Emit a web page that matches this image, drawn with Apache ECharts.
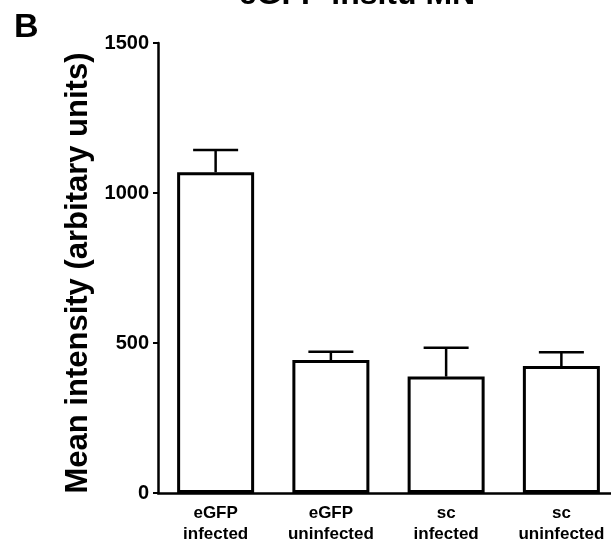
<!DOCTYPE html>
<html>
<head>
<meta charset="utf-8">
<script src="https://cdn.jsdelivr.net/npm/echarts@6/dist/echarts.min.js"></script>
<style>html,body{margin:0;padding:0;background:#fff;}#c{width:611px;height:542px;}</style>
</head>
<body>
<div id="c"></div>
<script>
var categories = ['eGFP\ninfected', 'eGFP\nuninfected', 'sc\ninfected', 'sc\nuninfected'];
var meanValues = [1069, 443, 388, 423];
var errorUpper = [1143, 471, 484, 469];
var yTicks = [0, 500, 1000, 1500];

var FONT = '"Liberation Sans", Arial, Helvetica, sans-serif';
var chart = echarts.init(document.getElementById('c'), null, {renderer: 'canvas'});

var errData = meanValues.map(function (v, i) { return [i, v, errorUpper[i]]; });

chart.setOption({
  animation: false,
  backgroundColor: '#fff',
  graphic: [
    {type: 'text', left: 14, top: 11, style: {text: 'B', font: 'bold 34px ' + FONT, fill: '#000'}},
    {type: 'text', x: 357, y: 11, style: {text: 'eGFP insitu MN', font: 'bold 32px ' + FONT, fill: '#000', align: 'center', verticalAlign: 'bottom'}}
  ],
  grid: {left: 158, top: 43, width: 461, height: 450, containLabel: false, outerBoundsMode: 'none'},
  xAxis: {
    type: 'category',
    data: categories,
    axisLine: {lineStyle: {color: '#000', width: 2.5}},
    axisTick: {alignWithLabel: true, length: 4, lineStyle: {color: '#000', width: 2}},
    axisLabel: {color: '#000', fontFamily: FONT, fontWeight: 'bold', fontSize: 17, lineHeight: 21, margin: 10}
  },
  yAxis: {
    type: 'value',
    min: 0, max: 1500, interval: 500,
    name: 'Mean intensity (arbitary units)',
    nameLocation: 'middle',
    nameGap: 60,
    nameTextStyle: {color: '#000', fontFamily: FONT, fontWeight: 'bold', fontSize: 31, padding: [0, 10, 0, 0]},
    axisLine: {show: true, lineStyle: {color: '#000', width: 2.5}},
    axisTick: {show: true, length: 5, lineStyle: {color: '#000', width: 2}},
    splitLine: {show: false},
    axisLabel: {color: '#000', fontFamily: FONT, fontWeight: 'bold', fontSize: 20, margin: 9,
      formatter: function (v) { return yTicks.indexOf(v) >= 0 ? String(v) : ''; }}
  },
  series: [
    {
      type: 'bar',
      data: meanValues,
      barWidth: 77,
      itemStyle: {color: '#fff', borderColor: '#000', borderWidth: 3},
      z: 2
    },
    {
      type: 'custom',
      data: errData,
      encode: {x: 0, y: [1, 2]},
      z: 1,
      renderItem: function (params, api) {
        var x = api.value(0);
        var lo = api.coord([x, api.value(1)]);
        var hi = api.coord([x, api.value(2)]);
        var half = 22.5;
        var st = {stroke: '#000', lineWidth: 2.5};
        return {
          type: 'group',
          children: [
            {type: 'line', shape: {x1: lo[0], y1: lo[1], x2: hi[0], y2: hi[1]}, style: st},
            {type: 'line', shape: {x1: hi[0] - half, y1: hi[1], x2: hi[0] + half, y2: hi[1]}, style: st}
          ]
        };
      }
    }
  ]
});
</script>
</body>
</html>
